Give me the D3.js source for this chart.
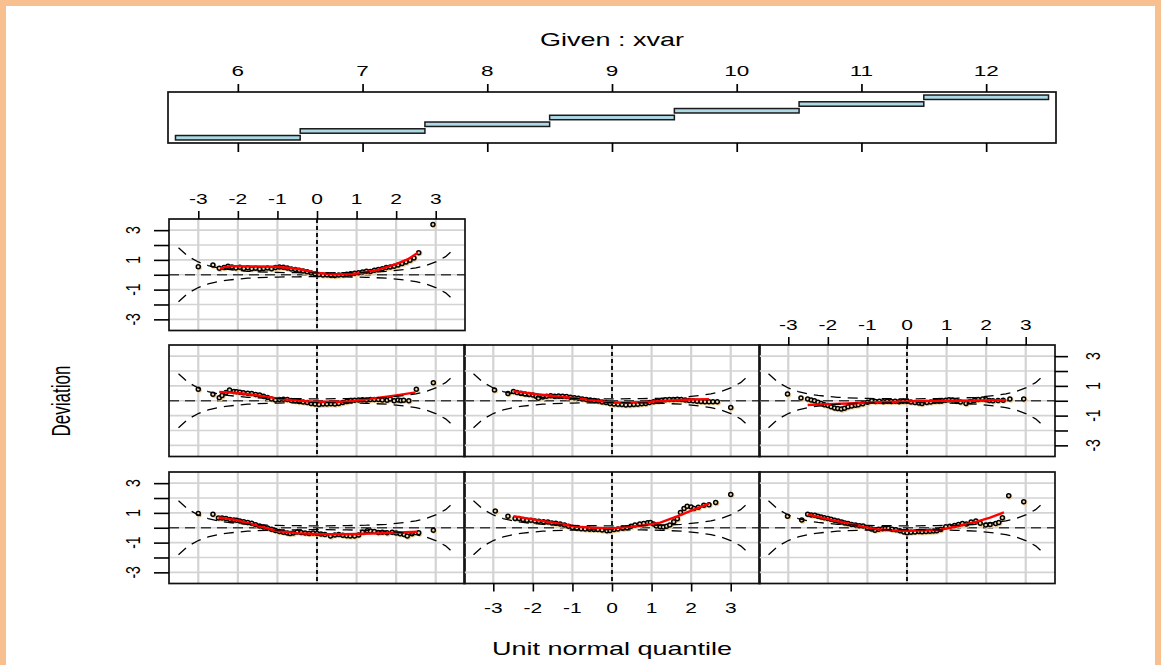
<!DOCTYPE html>
<html><head><meta charset="utf-8">
<script src="https://cdn.jsdelivr.net/npm/d3@7"></script>
<style>html,body{margin:0;padding:0;background:#fff;} svg{display:block;}</style>
</head><body>
<svg id="chart" width="1161" height="665"></svg>
<script>
// ---- conditioning variable (xvar) intervals ----
const givenTicks = [6, 7, 8, 9, 10, 11, 12];
const givenLo = [5.5, 6.5, 7.5, 8.5, 9.5, 10.5, 11.5];
const givenHi = [6.5, 7.5, 8.5, 9.5, 10.5, 11.5, 12.5];

// ---- panel axes ----
const quantileTicks = [-3, -2, -1, 0, 1, 2, 3];
const deviationTicks = [-3, -2, -1, 0, 1, 2, 3];
const deviationLabels = [3, 1, -1, -3];

// ---- 95% pointwise band of the worm plot ----
const bandZ = [-3.5, -3.25, -3, -2.75, -2.5, -2.25, -2, -1.75, -1.5, -1.25, -1, -0.75, -0.5, -0.25, 0,
               0.25, 0.5, 0.75, 1, 1.25, 1.5, 1.75, 2, 2.25, 2.5, 2.75, 3, 3.25, 3.5];
const bandHalf = [1.81, 1.22, 0.86, 0.62, 0.46, 0.36, 0.29, 0.23, 0.20, 0.17, 0.16, 0.14, 0.14, 0.13, 0.13,
                  0.13, 0.14, 0.14, 0.16, 0.17, 0.20, 0.23, 0.29, 0.36, 0.46, 0.62, 0.86, 1.22, 1.81];

// ---- worm points (unit normal quantile, deviation) per xvar interval ----
const worm6 = [[-3.0,0.96],[-2.63,0.90],[-2.49,0.66],[-2.40,0.65],[-2.30,0.62],[-2.20,0.55],[-2.10,0.52],[-2.03,0.51],
  [-1.95,0.46],[-1.85,0.40],[-1.75,0.35],[-1.65,0.30],[-1.55,0.20],[-1.45,0.12],[-1.35,0.05],[-1.25,-0.02],[-1.15,-0.10],
  [-1.05,-0.18],[-0.95,-0.25],[-0.85,-0.30],[-0.75,-0.35],[-0.68,-0.38],[-0.60,-0.36],[-0.50,-0.28],[-0.40,-0.32],
  [-0.30,-0.35],[-0.20,-0.38],[-0.10,-0.36],[0.0,-0.38],[0.10,-0.42],[0.20,-0.45],[0.34,-0.56],[0.45,-0.48],[0.55,-0.45],
  [0.65,-0.50],[0.75,-0.54],[0.84,-0.56],[0.95,-0.56],[1.05,-0.48],[1.15,-0.30],[1.27,-0.20],[1.35,-0.22],[1.45,-0.25],
  [1.55,-0.32],[1.65,-0.30],[1.77,-0.34],[1.90,-0.30],[2.0,-0.35],[2.10,-0.40],[2.20,-0.45],[2.28,-0.56],[2.40,-0.40],
  [2.57,-0.34],[2.94,-0.16]];
const worm7 = [[-2.95,1.12],[-2.63,0.78],[-2.45,0.63],[-2.35,0.62],[-2.25,0.55],[-2.15,0.51],[-2.05,0.50],[-1.95,0.45],
  [-1.85,0.44],[-1.73,0.40],[-1.62,0.38],[-1.52,0.32],[-1.42,0.30],[-1.31,0.25],[-1.20,0.18],[-1.10,0.10],[-1.0,0.02],
  [-0.89,-0.04],[-0.78,-0.06],[-0.68,-0.08],[-0.57,-0.10],[-0.46,-0.11],[-0.36,-0.12],[-0.25,-0.15],[-0.13,-0.20],
  [-0.05,-0.18],[0.05,-0.12],[0.15,-0.08],[0.27,-0.04],[0.38,0.0],[0.48,0.10],[0.58,0.18],[0.70,0.25],[0.80,0.29],
  [0.90,0.33],[0.97,0.36],[1.05,0.25],[1.12,0.12],[1.22,0.07],[1.30,0.05],[1.38,0.10],[1.46,0.18],[1.56,0.40],[1.65,0.60],
  [1.73,1.03],[1.82,1.30],[1.90,1.45],[2.0,1.40],[2.07,1.30],[2.18,1.38],[2.32,1.52],[2.45,1.55],[2.62,1.70],[3.0,2.24]];
const worm8 = [[-3.02,0.78],[-2.66,0.52],[-2.51,0.90],[-2.42,0.86],[-2.33,0.84],[-2.25,0.78],[-2.17,0.72],[-2.09,0.67],
  [-2.0,0.62],[-1.92,0.58],[-1.83,0.50],[-1.74,0.45],[-1.65,0.38],[-1.57,0.32],[-1.49,0.29],[-1.40,0.22],[-1.30,0.18],
  [-1.20,0.14],[-1.11,0.11],[-1.0,0.0],[-0.90,-0.08],[-0.81,-0.16],[-0.72,-0.10],[-0.62,-0.06],[-0.55,-0.05],[-0.47,-0.04],
  [-0.38,-0.10],[-0.28,-0.14],[-0.18,-0.20],[-0.08,-0.28],[0.0,-0.34],[0.10,-0.30],[0.20,-0.28],[0.30,-0.26],[0.38,-0.27],
  [0.48,-0.26],[0.58,-0.24],[0.67,-0.22],[0.75,-0.20],[0.85,-0.12],[0.98,0.07],[1.08,0.10],[1.20,0.15],[1.30,0.22],
  [1.40,0.29],[1.50,0.25],[1.62,0.38],[1.74,0.45],[1.85,0.30],[1.99,0.18],[2.10,0.22],[2.24,0.29],[2.32,0.35],[2.41,0.67],
  [2.57,2.15],[2.95,1.75]];
const worm9 = [[-3.0,0.78],[-2.63,0.43],[-2.47,0.20],[-2.40,0.35],[-2.30,0.55],[-2.21,0.72],[-2.10,0.62],[-2.03,0.60],
  [-1.95,0.58],[-1.86,0.54],[-1.75,0.50],[-1.65,0.48],[-1.55,0.42],[-1.45,0.38],[-1.35,0.30],[-1.25,0.22],[-1.15,0.12],
  [-1.05,0.05],[-0.95,0.08],[-0.85,0.10],[-0.75,0.08],[-0.65,0.02],[-0.55,0.0],[-0.45,-0.05],[-0.35,-0.08],[-0.25,-0.12],
  [-0.15,-0.18],[-0.05,-0.22],[0.05,-0.25],[0.15,-0.22],[0.25,-0.22],[0.35,-0.20],[0.45,-0.22],[0.55,-0.18],[0.65,-0.12],
  [0.75,-0.05],[0.85,0.02],[0.95,0.04],[1.05,0.05],[1.15,0.06],[1.25,0.05],[1.35,0.08],[1.45,0.09],[1.55,0.08],[1.65,0.05],
  [1.77,0.04],[1.85,0.12],[1.95,0.0],[2.05,0.05],[2.12,0.02],[2.19,0.04],[2.32,0.0],[2.51,0.78],[2.94,1.21]];
const worm10 = [[-2.97,0.72],[-2.63,0.49],[-2.49,0.62],[-2.40,0.55],[-2.30,0.50],[-2.20,0.45],[-2.10,0.42],[-2.0,0.38],
  [-1.92,0.30],[-1.86,0.16],[-1.75,0.25],[-1.65,0.30],[-1.55,0.33],[-1.45,0.30],[-1.35,0.32],[-1.25,0.30],[-1.15,0.28],
  [-1.05,0.24],[-0.95,0.20],[-0.85,0.16],[-0.75,0.12],[-0.65,0.08],[-0.55,0.05],[-0.45,0.02],[-0.35,-0.02],[-0.25,-0.08],
  [-0.15,-0.12],[-0.05,-0.18],[0.05,-0.22],[0.15,-0.24],[0.25,-0.26],[0.35,-0.28],[0.45,-0.27],[0.55,-0.25],[0.65,-0.24],
  [0.75,-0.20],[0.85,-0.18],[0.95,-0.12],[1.05,-0.06],[1.15,-0.02],[1.25,0.02],[1.35,0.06],[1.45,0.08],[1.55,0.09],
  [1.65,0.10],[1.75,0.08],[1.85,0.05],[1.95,0.02],[2.05,0.0],[2.15,-0.03],[2.25,-0.05],[2.35,-0.06],[2.45,-0.07],
  [2.55,-0.06],[2.66,-0.07],[3.0,-0.45]];
const worm11 = [[-3.02,0.45],[-2.68,0.18],[-2.51,0.11],[-2.42,0.05],[-2.34,0.0],[-2.25,-0.10],[-2.17,-0.18],[-2.09,-0.27],
  [-2.0,-0.32],[-1.92,-0.40],[-1.83,-0.49],[-1.75,-0.52],[-1.66,-0.56],[-1.58,-0.50],[-1.49,-0.40],[-1.40,-0.35],
  [-1.30,-0.30],[-1.23,-0.27],[-1.12,-0.20],[-1.0,-0.10],[-0.89,0.0],[-0.80,-0.05],[-0.70,-0.03],[-0.60,-0.06],
  [-0.50,-0.04],[-0.40,-0.05],[-0.30,-0.03],[-0.20,-0.06],[-0.10,-0.04],[0.0,-0.04],[0.10,-0.08],[0.20,-0.12],[0.30,-0.15],
  [0.38,-0.18],[0.50,-0.12],[0.60,-0.08],[0.70,-0.04],[0.80,-0.02],[0.89,0.0],[0.98,0.04],[1.06,0.07],[1.15,0.05],
  [1.25,0.0],[1.35,-0.08],[1.49,-0.18],[1.60,-0.05],[1.70,0.02],[1.80,0.08],[1.91,0.11],[2.0,0.06],[2.08,0.02],[2.17,0.0],
  [2.30,0.02],[2.43,0.04],[2.60,0.11],[2.95,0.11]];
const worm12 = [[-3.0,0.54],[-2.63,0.65],[-2.47,0.43],[-2.35,0.48],[-2.25,0.58],[-2.15,0.52],[-2.05,0.45],[-1.95,0.50],
  [-1.85,0.42],[-1.75,0.47],[-1.65,0.40],[-1.55,0.44],[-1.45,0.38],[-1.35,0.42],[-1.25,0.45],[-1.15,0.40],[-1.05,0.48],
  [-0.95,0.52],[-0.85,0.50],[-0.75,0.45],[-0.65,0.38],[-0.55,0.35],[-0.45,0.30],[-0.35,0.25],[-0.25,0.20],[-0.15,0.12],
  [-0.05,0.06],[0.05,0.02],[0.15,-0.02],[0.25,0.0],[0.35,-0.04],[0.45,-0.05],[0.55,-0.02],[0.65,0.0],[0.75,0.04],
  [0.85,0.06],[0.95,0.10],[1.05,0.14],[1.15,0.18],[1.25,0.24],[1.35,0.22],[1.45,0.30],[1.55,0.35],[1.65,0.40],[1.75,0.48],
  [1.85,0.52],[1.95,0.58],[2.05,0.66],[2.15,0.75],[2.25,0.85],[2.35,0.98],[2.45,1.12],[2.57,1.48],[2.93,3.38]];

// ---- fitted worm curves ----
const fit6 = [[-2.49,0.69],[-2.03,0.51],[-1.52,0.16],[-1.01,-0.22],[-0.5,-0.36],[0,-0.42],[0.5,-0.44],[1.01,-0.42],[1.5,-0.38],[1.94,-0.34],[2.53,-0.27]];
const fit7 = [[-2.49,0.78],[-1.73,0.45],[-1.3,0.25],[-0.89,0.07],[-0.45,0.0],[0,-0.04],[0.72,0.13],[1.22,0.34],[1.73,0.85],[2.1,1.25],[2.45,1.63]];
const fit8 = [[-2.51,0.90],[-2.0,0.58],[-1.49,0.29],[-0.81,-0.09],[-0.4,-0.17],[0,-0.20],[0.8,-0.16],[1.3,0.12],[1.74,0.40],[2.1,0.68],[2.45,1.03]];
const fit9 = [[-2.47,0.60],[-2.0,0.52],[-1.5,0.36],[-0.84,0.09],[-0.13,-0.07],[0.76,-0.07],[1.43,0.16],[2.0,0.36],[2.49,0.56]];
const fit10 = [[-2.49,0.65],[-2.0,0.47],[-1.5,0.32],[-1.05,0.20],[-0.5,0.04],[0,-0.13],[0.5,-0.11],[0.97,-0.07],[1.5,0.02],[2.0,0.08],[2.45,0.11]];
const fit11 = [[-2.51,-0.29],[-2.0,-0.23],[-1.49,-0.18],[-0.75,-0.10],[0,-0.04],[0.5,-0.02],[1.06,0.0],[1.8,0.02],[2.51,0.04]];
const fit12 = [[-2.45,0.43],[-2.2,0.58],[-1.5,0.55],[-1.0,0.54],[-0.5,0.40],[0,0.12],[0.5,0.02],[1.0,0.08],[1.5,0.30],[2.0,0.72],[2.3,1.05],[2.55,1.48]];

const wormData = [worm6, worm7, worm8, worm9, worm10, worm11, worm12];
const fitData = [fit6, fit7, fit8, fit9, fit10, fit11, fit12];

// ---- drawing ----
const svg = d3.select("#chart");
const FONT = "'Liberation Sans', Arial, Helvetica, sans-serif";
const SX = 1.5;   // horizontal stretch of the graphics device

function stretchedText(g, x, y, txt, size, rotate) {
  return g.append("text")
    .attr("transform", `translate(${x},${y}) scale(${SX},1)` + (rotate ? ` rotate(${rotate})` : ""))
    .attr("text-anchor", "middle")
    .attr("font-family", FONT)
    .attr("font-size", size)
    .attr("fill", "#000")
    .text(txt);
}

// page frame
svg.append("rect").attr("x", 3).attr("y", 3).attr("width", 1155).attr("height", 700)
  .attr("fill", "none").attr("stroke", "#f9c08f").attr("stroke-width", 6);

// ---- given panel ----
const gx = d3.scaleLinear().domain([5.44, 12.56]).range([168, 1056]);
const gy = d3.scaleLinear().domain([0.22, 7.78]).range([143, 92]);
const gp = svg.append("g");
gp.selectAll("rect.bar").data(givenLo).join("rect").attr("class", "bar")
  .attr("x", (d) => gx(d))
  .attr("width", (d, i) => gx(givenHi[i]) - gx(d))
  .attr("y", (d, i) => gy(i + 1 + 0.33))
  .attr("height", (d, i) => gy(i + 1 - 0.33) - gy(i + 1 + 0.33))
  .attr("fill", "#add8e6").attr("stroke", "#1a1a1a").attr("stroke-width", 1.5);
gp.append("rect").attr("x", gx.range()[0]).attr("y", gy.range()[1])
  .attr("width", gx.range()[1] - gx.range()[0]).attr("height", gy.range()[0] - gy.range()[1])
  .attr("fill", "none").attr("stroke", "#111").attr("stroke-width", 1.7);
const gTop = gp.append("g").attr("transform", `translate(0,${gy.range()[1]})`)
  .call(d3.axisTop(gx).tickValues(givenTicks).tickSize(8).tickFormat(""));
const gBot = gp.append("g").attr("transform", `translate(0,${gy.range()[0]})`)
  .call(d3.axisBottom(gx).tickValues(givenTicks).tickSize(9).tickFormat(""));
[gTop, gBot].forEach((a) => {
  a.select(".domain").remove();
  a.selectAll(".tick line").attr("stroke", "#000").attr("stroke-width", 1.7);
});
givenTicks.forEach((t) => stretchedText(gp, gx(t), 76, String(t), 15));
stretchedText(svg, gx(9), 46, "Given : xvar", 18);

// ---- dependence panels ----
const panelW = 296, panelH = 111.5;
const colX = [169, 464, 759];
const rowY = [219, 345, 472];
const xDom = [-3.74, 3.74], yDom = [-3.75, 3.75];

const panels = wormData.map((w, i) => ({
  idx: i, worm: w, fit: fitData[i],
  row: 2 - Math.floor(i / 3), col: i % 3
}));

panels.forEach((p) => {
  const ox = colX[p.col], oy = rowY[p.row];
  const x = d3.scaleLinear().domain(xDom).range([0, panelW]);
  const y = d3.scaleLinear().domain(yDom).range([panelH, 0]);
  const g = svg.append("g").attr("transform", `translate(${ox},${oy})`);
  const clipId = "clip" + p.idx;
  g.append("clipPath").attr("id", clipId).append("rect")
    .attr("width", panelW).attr("height", panelH);
  const inner = g.append("g").attr("clip-path", `url(#${clipId})`);

  // grid
  inner.selectAll("line.gv").data(quantileTicks).join("line").attr("class", "gv")
    .attr("x1", (d) => x(d)).attr("x2", (d) => x(d)).attr("y1", 0).attr("y2", panelH)
    .attr("stroke", "#d3d3d3").attr("stroke-width", 2.2);
  inner.selectAll("line.gh").data(deviationTicks).join("line").attr("class", "gh")
    .attr("y1", (d) => y(d)).attr("y2", (d) => y(d)).attr("x1", 0).attr("x2", panelW)
    .attr("stroke", "#d3d3d3").attr("stroke-width", 1.6);

  // reference lines
  inner.append("line").attr("x1", 0).attr("x2", panelW).attr("y1", y(0)).attr("y2", y(0))
    .attr("stroke", "#3a3a3a").attr("stroke-width", 1.7).attr("stroke-dasharray", "10,6");
  inner.append("line").attr("x1", x(0)).attr("x2", x(0)).attr("y1", 0).attr("y2", panelH)
    .attr("stroke", "#000").attr("stroke-width", 1.8).attr("stroke-dasharray", "4,3");

  // points
  inner.selectAll("circle.halo").data(p.worm).join("circle").attr("class", "halo")
    .attr("cx", (d) => x(d[0]) + 0.9).attr("cy", (d) => y(d[1]) + 0.9).attr("r", 2.8)
    .attr("fill", "#efcf98");
  inner.selectAll("circle.pt").data(p.worm).join("circle").attr("class", "pt")
    .attr("cx", (d) => x(d[0])).attr("cy", (d) => y(d[1])).attr("r", 2)
    .attr("fill", "#e9d6ae").attr("stroke", "#000").attr("stroke-width", 1.5);

  // fitted curve
  inner.append("path").datum(p.fit)
    .attr("d", d3.line().x((d) => x(d[0])).y((d) => y(d[1])))
    .attr("fill", "none").attr("stroke", "#ff0000").attr("stroke-width", 2.4);

  // confidence band
  const up = bandZ.map((z, k) => [z, bandHalf[k]]);
  const lo = bandZ.map((z, k) => [z, -bandHalf[k]]);
  [up, lo].forEach((b) => {
    inner.append("path").datum(b)
      .attr("d", d3.line().x((d) => x(d[0])).y((d) => y(d[1])))
      .attr("fill", "none").attr("stroke", "#000").attr("stroke-width", 1.3)
      .attr("stroke-dasharray", "10,7");
  });

  // frame
  g.append("rect").attr("width", panelW).attr("height", panelH)
    .attr("fill", "none").attr("stroke", "#111").attr("stroke-width", 1.7);

  // axes (alternating as in a conditioning plot)
  const tidy = (a) => {
    a.select(".domain").remove();
    a.selectAll(".tick line").attr("stroke", "#000").attr("stroke-width", 1.6);
  };
  if ((p.row === 0 && p.col === 0) || (p.row === 1 && p.col === 2)) {
    const a = g.append("g").call(d3.axisTop(x).tickValues(quantileTicks).tickSize(8).tickFormat(""));
    tidy(a);
    quantileTicks.forEach((t) => stretchedText(g, x(t), -15, String(t), 14));
  }
  if (p.row === 2 && p.col === 1) {
    const a = g.append("g").attr("transform", `translate(0,${panelH})`)
      .call(d3.axisBottom(x).tickValues(quantileTicks).tickSize(8).tickFormat(""));
    tidy(a);
    quantileTicks.forEach((t) => stretchedText(g, x(t), panelH + 29, String(t), 14));
  }
  if (p.col === 0 && p.row !== 1) {
    const a = g.append("g").call(d3.axisLeft(y).tickValues(deviationTicks).tickSize(15).tickFormat(""));
    tidy(a);
    deviationLabels.forEach((t) => stretchedText(g, -29, y(t), String(t), 14, -90));
  }
  if (p.row === 1 && p.col === 2) {
    const a = g.append("g").attr("transform", `translate(${panelW},0)`)
      .call(d3.axisRight(y).tickValues(deviationTicks).tickSize(13).tickFormat(""));
    tidy(a);
    deviationLabels.forEach((t) => stretchedText(g, panelW + 45, y(t), String(t), 14, -90));
  }
});

// outer axis titles
stretchedText(svg, 612, 655, "Unit normal quantile", 18);
stretchedText(svg, 70, 401, "Deviation", 17, -90);
</script>
</body></html>
